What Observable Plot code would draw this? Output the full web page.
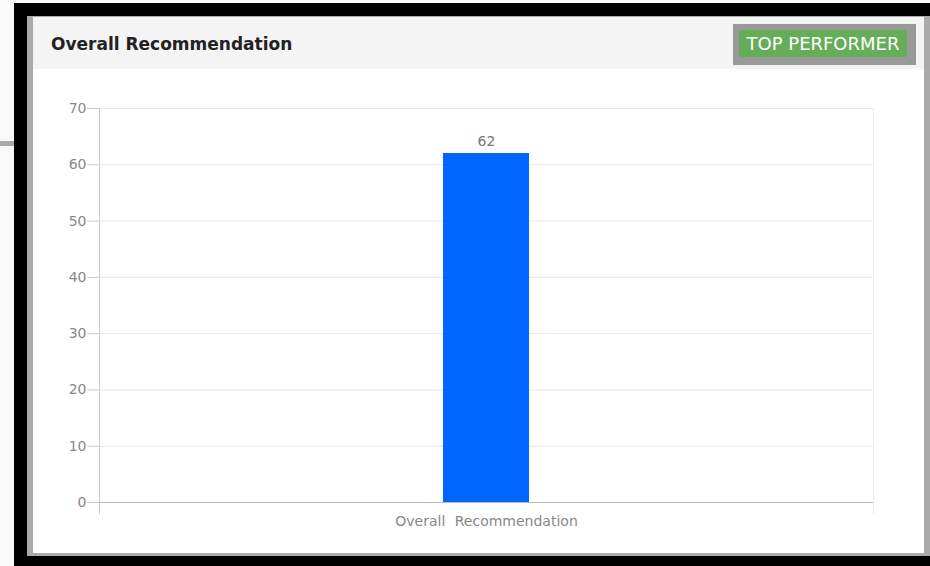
<!DOCTYPE html>
<html>
<head>
<meta charset="utf-8">
<script src="https://cdn.jsdelivr.net/npm/d3@7"></script>
<script src="https://cdn.jsdelivr.net/npm/@observablehq/plot@0.6"></script>
<style>
  html, body { margin: 0; padding: 0; }
  body { width: 930px; height: 566px; background: #f9f9f9; position: relative; overflow: hidden; font-family: "DejaVu Sans", sans-serif; }
  .abs { position: absolute; }
  #black { left: 14px; top: 3px; width: 916px; height: 563px; background: #000; }
  #stub { left: 0; top: 141px; width: 14px; height: 5px; background: #aaa; }
  #panel { left: 27px; top: 16px; width: 903px; height: 540px; background: #aaa; }
  #inner { left: 33px; top: 17px; width: 891px; height: 536px; background: #fff; }
  #header { left: 33px; top: 17px; width: 891px; height: 52px; background: #f4f4f4; }
  #title { left: 51px; top: 34px; font-weight: bold; font-size: 17px; color: #222; white-space: nowrap; }
  #badgeOuter { left: 733px; top: 24px; width: 183px; height: 41px; background: #999; }
  #badge { left: 739px; top: 30px; width: 168px; height: 27px; background: #66ad5a; border-radius: 2px; color: #fff; font-size: 18px; line-height: 27px; text-align: center; white-space: nowrap; }
  #chart { left: 33px; top: 69px; }
  #chart svg text { word-spacing: 5px; }
</style>
</head>
<body>
<div class="abs" id="black"></div>
<div class="abs" id="stub"></div>
<div class="abs" id="panel"></div>
<div class="abs" id="inner"></div>
<div class="abs" id="header"></div>
<div class="abs" id="title">Overall Recommendation</div>
<div class="abs" id="badgeOuter"></div>
<div class="abs" id="badge">TOP PERFORMER</div>
<div class="abs" id="chart"></div>
<script>
const categories = ["Overall Recommendation"];
const values = [62];
const yTicks = [0, 10, 20, 30, 40, 50, 60, 70];

const data = categories.map((c, i) => ({category: c, value: values[i]}));

const chart = Plot.plot({
  width: 891,
  height: 484,
  marginLeft: 66,
  marginRight: 51,
  marginTop: 39,
  marginBottom: 51,
  style: {fontFamily: "DejaVu Sans, sans-serif", fontSize: "14px", background: "transparent", color: "#888"},
  x: {type: "band", domain: categories, padding: 0.8, label: null},
  y: {domain: [0, 70], label: null},
  marks: [
    Plot.ruleY(yTicks.filter(d => d > 0), {stroke: "#e6e6e6", strokeOpacity: 1}),
    Plot.frame({anchor: "right", stroke: "#eeeeee", strokeOpacity: 1, insetBottom: -11}),
    Plot.frame({anchor: "left", stroke: "#cccccc", strokeOpacity: 1, insetBottom: -11}),
    Plot.barY(data, {x: "category", y: "value", fill: "#0066ff"}),
    Plot.ruleY([0], {stroke: "#bbbbbb", strokeOpacity: 1}),
    Plot.text(data, {x: "category", y: "value", text: d => String(d.value), dy: -12, fill: "#777", fontSize: 14}),
    Plot.axisY({ticks: yTicks, tickSize: 12, tickPadding: 1, stroke: "#cccccc", fill: "#888", fontSize: 14, strokeOpacity: 1}),
    Plot.axisX({tickSize: 0, tickPadding: 14, fill: "#888", fontSize: 14})
  ]
});
document.getElementById("chart").appendChild(chart);
</script>
</body>
</html>
